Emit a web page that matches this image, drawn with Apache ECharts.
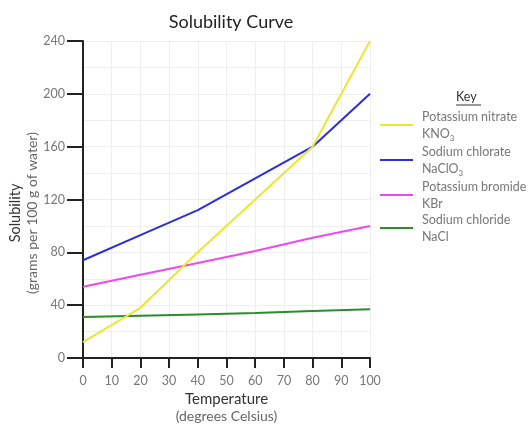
<!DOCTYPE html>
<html>
<head>
<meta charset="utf-8">
<script src="https://cdn.jsdelivr.net/npm/echarts@6/dist/echarts.min.js"></script>
<style>
html,body{margin:0;padding:0;background:#fff;}
#c{width:531px;height:430px;}
</style>
</head>
<body>
<div id="c"></div>
<script>
var temps = [0, 20, 40, 60, 80, 100];
var kno3 = [12, 38, 80, 120, 160, 240];
var naclo3 = [74, 93, 112, 136, 160, 200];
var kbr = [54, 63, 72, 81, 91, 100];
var nacl = [31, 32, 33, 34, 35.5, 37];
var seriesNames = ['Potassium nitrate', 'Sodium chlorate', 'Potassium bromide', 'Sodium chloride'];
var formulas = ['{a|KNO}{s|3}', '{a|NaClO}{s|3}', '{a|KBr}', '{a|NaCl}'];
var colors = ['#e8e832', '#2c2ce0', '#f048f0', '#2a8c2a'];

function pairs(vals) { return temps.map(function (t, i) { return [t, vals[i]]; }); }
var allVals = [kno3, naclo3, kbr, nacl];
var FONT = 'Lato, "Open Sans", sans-serif';

var chart = echarts.init(document.getElementById('c'));
chart.setOption({
  backgroundColor: '#fff',
  textStyle: { fontFamily: FONT },
  title: {
    text: 'Solubility Curve',
    left: 226, top: 8, textAlign: 'center',
    textStyle: { fontFamily: FONT, fontSize: 18, fontWeight: 'normal', color: '#222' }
  },
  grid: { left: 83, right: 161, top: 41, bottom: 72, containLabel: false },
  xAxis: {
    type: 'value', min: 0, max: 100, interval: 10,
    axisLine: { show: true, lineStyle: { color: '#222', width: 2 } },
    axisTick: { show: true, length: 10, lineStyle: { color: '#222', width: 2 } },
    axisLabel: { color: '#777', fontSize: 12.5, margin: 16, fontFamily: FONT },
    splitLine: { show: true, lineStyle: { color: '#eeeeee', width: 1 } },
    name: '{t|Temperature}\n{s|(degrees Celsius)}',
    nameLocation: 'middle', nameGap: 32,
    nameTextStyle: {
      rich: {
        t: { fontSize: 15, color: '#333', lineHeight: 17, fontFamily: FONT },
        s: { fontSize: 14, color: '#666', lineHeight: 17, fontFamily: FONT }
      }
    }
  },
  yAxis: {
    type: 'value', min: 0, max: 240, interval: 40,
    axisLine: { show: true, onZero: false, lineStyle: { color: '#222', width: 2 } },
    axisTick: { show: true, length: 16, lineStyle: { color: '#222', width: 2 } },
    axisLabel: { color: '#777', fontSize: 12.5, margin: 18, fontFamily: FONT },
    splitLine: { show: true, lineStyle: { color: '#eeeeee', width: 1 } },
    minorSplitLine: { show: true, lineStyle: { color: '#eeeeee', width: 1 } },
    minorTick: { show: false, splitNumber: 2 }
  },
  legend: {
    orient: 'vertical', left: 375, top: 105,
    itemWidth: 33, itemHeight: 2, itemGap: 3, icon: 'rect',
    data: seriesNames,
    formatter: function (name) {
      var i = seriesNames.indexOf(name);
      return '{a|' + name + '}\n' + formulas[i];
    },
    textStyle: {
      padding: [0, 0, 0, 4],
      rich: {
        a: { fontSize: 12.5, color: '#777', lineHeight: 17, fontFamily: FONT },
        s: { fontSize: 8, color: '#777', lineHeight: 17, verticalAlign: 'bottom', padding: [8, 0, 0, 0], fontFamily: FONT }
      }
    }
  },
  graphic: [
    { type: 'text', left: 456, top: 90, style: { text: 'Key', fontSize: 12.5, fill: '#333', fontFamily: FONT } },
    { type: 'line', shape: { x1: 456, y1: 105, x2: 481, y2: 105 }, style: { stroke: '#333', lineWidth: 1 } },
    { type: 'text', x: 15, y: 213, rotation: Math.PI / 2,
      style: { text: 'Solubility', fontSize: 14.5, fill: '#333', align: 'center', verticalAlign: 'middle', fontFamily: FONT } },
    { type: 'text', x: 32, y: 213, rotation: Math.PI / 2,
      style: { text: '(grams per 100 g of water)', fontSize: 14, fill: '#666', align: 'center', verticalAlign: 'middle', fontFamily: FONT } }
  ],
  series: seriesNames.map(function (n, i) {
    return {
      name: n, type: 'line', data: pairs(allVals[i]),
      showSymbol: false, symbol: 'none', smooth: false,
      lineStyle: { color: colors[i], width: 2 },
      itemStyle: { color: colors[i] },
      z: 10 - i
    };
  })
});
</script>
</body>
</html>
